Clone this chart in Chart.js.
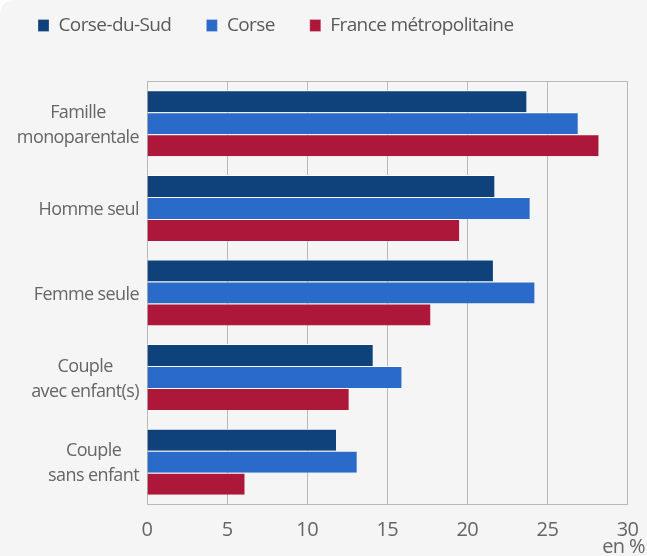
<!DOCTYPE html>
<html lang="fr">
<head>
<meta charset="utf-8">
<script src="https://cdn.jsdelivr.net/npm/chart.js@4.4.1/dist/chart.umd.min.js"></script>
<style>
  html, body { margin: 0; padding: 0; background: #fff; }
  #wrap { width: 647px; height: 556px; background: #f5f5f5; border-top-left-radius: 14px; }
</style>
</head>
<body>
<div id="wrap"><canvas id="bars" width="647" height="556"></canvas></div>
<script>
// categories and series
const categories = [['Famille', 'monoparentale'], ['Homme seul'], ['Femme seule'], ['Couple', 'avec enfant(s)'], ['Couple', 'sans enfant']]
const corseDuSud = [23.7, 21.7, 21.6, 14.1, 11.8]
const corse = [26.9, 23.9, 24.2, 15.9, 13.1]
const franceMetro = [28.2, 19.5, 17.7, 12.6, 6.1]
const xTicks = [0, 5, 10, 15, 20, 25, 30]
const unitLabel = 'en %'

Chart.defaults.font.family = '"Open Sans", sans-serif'

// tight letter spacing + y labels: each block right aligned, lines centred on the widest one
const extras = {
  id: 'extras',
  beforeLayout(chart) {
    chart.ctx.letterSpacing = '-0.6px'
    if (chart.legend && !chart.legend._patched) {
      const fit = chart.legend.fit
      chart.legend.fit = function () { fit.call(this); this.height = 100 }
      chart.legend._patched = true
    }
  },
  beforeDraw(chart) {
    chart.ctx.letterSpacing = '-0.6px'
  },
  afterDraw(chart) {
    const ctx = chart.ctx
    const y = chart.scales.y
    const area = chart.chartArea
    ctx.save()
    ctx.strokeStyle = '#b9b9b9'
    ctx.lineWidth = 1
    ctx.beginPath()
    ctx.moveTo(area.left, Math.round(area.top) + 0.5)
    ctx.lineTo(area.right, Math.round(area.top) + 0.5)
    ctx.stroke()

    ctx.font = '18px "Open Sans"'
    ctx.fillStyle = '#666'
    ctx.textBaseline = 'middle'
    ctx.textAlign = 'center'
    categories.forEach((lines, i) => {
      const cy = y.getPixelForValue(i) + 2
      const w = Math.max(...lines.map(l => ctx.measureText(l).width))
      const cx = y.right - 8 - w / 2
      lines.forEach((l, j) => ctx.fillText(l, cx, cy + (j - (lines.length - 1) / 2) * 25))
    })

    ctx.textAlign = 'right'
    ctx.font = '20px "Open Sans"'
    ctx.fillText(unitLabel, 645, 547)
    ctx.restore()
  }
}

window.myBar = new Chart(document.getElementById('bars'),
  {
    type: 'bar',
    data: {
      labels: categories,
      datasets: [
        {
          label: 'Corse-du-Sud',
          backgroundColor: '#0f427a',
          borderColor: '#ffffff',
          borderWidth: { top: 1, right: 0, bottom: 0, left: 0 },
          data: corseDuSud,
        },
        {
          label: 'Corse',
          backgroundColor: '#2a6bca',
          borderColor: '#ffffff',
          borderWidth: { top: 1, right: 0, bottom: 0, left: 0 },
          data: corse,
        },
        {
          label: 'France métropolitaine',
          backgroundColor: '#ad1739',
          borderColor: '#ffffff',
          borderWidth: { top: 1, right: 0, bottom: 0, left: 0 },
          data: franceMetro,
        },
      ],
    },
    options: {
      indexAxis: 'y',
      responsive: false,
      animation: false,
      barPercentage: 1,
      categoryPercentage: 0.78,
      layout: { padding: { top: -19, right: 19.5, left: 3, bottom: 0 } },
      scales: {
        x: {
          min: 0,
          max: 30,
          afterFit(scale) {
            scale.height = 52
            scale.paddingLeft = 0
            scale.paddingRight = 0
          },
          afterBuildTicks(scale) { scale.ticks = xTicks.map(v => ({ value: v })) },
          grid: { color: '#b9b9b9', drawTicks: false },
          border: { color: '#b9b9b9' },
          ticks: { color: '#666', font: { size: 20 }, padding: 14 },
        },
        y: {
          afterFit(scale) { scale.width = 144 },
          grid: { display: false },
          border: { color: '#b9b9b9' },
          ticks: { display: false },
        },
      },
      plugins: {
        tooltip: { enabled: false },
        legend: {
          position: 'top',
          align: 'start',
          labels: {
            boxWidth: 11,
            boxHeight: 12,
            padding: 35,
            color: '#5a5a5a',
            font: { size: 19 },
          },
        },
      },
    },
    plugins: [extras],
  }
)
</script>
</body>
</html>
